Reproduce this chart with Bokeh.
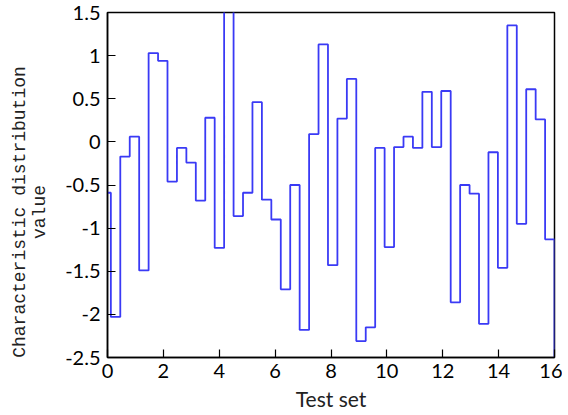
from bokeh.plotting import figure
from bokeh.models import Range1d, FixedTicker
from bokeh.embed import file_html
from bokeh.resources import INLINE

# ---- data ----
values = [-0.59, -2.03, -0.17, 0.06, -1.49, 1.03, 0.94, -0.46, -0.07, -0.24,
          -0.68, 0.28, -1.23, 1.80, -0.86, -0.59, 0.46, -0.67, -0.90, -1.71,
          -0.50, -2.18, 0.09, 1.13, -1.43, 0.27, 0.73, -2.31, -2.15, -0.07,
          -1.22, -0.06, 0.06, -0.07, 0.58, -0.06, 0.59, -1.86, -0.50, -0.60,
          -2.11, -0.12, -1.46, 1.35, -0.95, 0.61, 0.26, -1.13]
end_value = -2.6
first_edge = 0.12
step_width = 0.3379
x_ticks = [0, 2, 4, 6, 8, 10, 12, 14, 16]
y_ticks = [-2.5, -2, -1.5, -1, -0.5, 0, 0.5, 1, 1.5]
y_tick_labels = ["-2.5", "-2", "-1.5", "-1", "-0.5", "0", "0.5", "1", "1.5"]

xs = [0.0] + [first_edge + k * step_width for k in range(len(values) - 1)] + [16.0]
ys = list(values) + [end_value]

p = figure(width=562, height=415, output_backend="svg", toolbar_location=None,
           x_range=Range1d(0, 16), y_range=Range1d(-2.5, 1.5),
           min_border_left=107, min_border_right=8, min_border_top=12, min_border_bottom=58)

p.step(xs, ys, mode="after", line_color="#3a3af5", line_width=1.8)

p.grid.visible = False
p.outline_line_color = "black"
p.outline_line_width = 1.5
p.background_fill_color = "white"
p.border_fill_color = "white"

tick_font = "Lato"
for ax in (p.xaxis[0], p.yaxis[0]):
    ax.axis_line_width = 1.5
    ax.axis_line_color = "black"
    ax.major_tick_in = 8
    ax.major_tick_out = 0
    ax.minor_tick_in = 0
    ax.minor_tick_out = 0
    ax.major_tick_line_width = 1.2
    ax.major_label_text_font = tick_font
    ax.major_label_text_font_size = "20px"
    ax.major_label_text_color = "black"
    ax.axis_label_text_color = "#222222"

p.xaxis[0].ticker = FixedTicker(ticks=x_ticks)
p.yaxis[0].ticker = FixedTicker(ticks=y_ticks)
p.yaxis[0].major_label_overrides = {t: l for t, l in zip(y_ticks, y_tick_labels)}
p.xaxis[0].major_label_overrides = {t: str(t) for t in x_ticks}

p.xaxis[0].axis_label = "Test set"
p.xaxis[0].axis_label_text_font = tick_font
p.xaxis[0].axis_label_text_font_size = "21px"
p.xaxis[0].axis_label_text_font_style = "normal"
p.xaxis[0].axis_label_standoff = 5
p.xaxis[0].major_label_standoff = 6

pad = "\u00a0" * 5
p.yaxis[0].axis_label = "Characteristic distribution" + pad + "\nvalue" + pad
p.yaxis[0].axis_label_text_font = "Liberation Mono"
p.yaxis[0].axis_label_text_font_size = "18px"
p.yaxis[0].axis_label_text_font_style = "normal"
p.yaxis[0].axis_label_text_line_height = 1.0
p.yaxis[0].axis_label_standoff = 12
p.yaxis[0].major_label_standoff = 7

open("out.html", "w").write(file_html(p, INLINE))
